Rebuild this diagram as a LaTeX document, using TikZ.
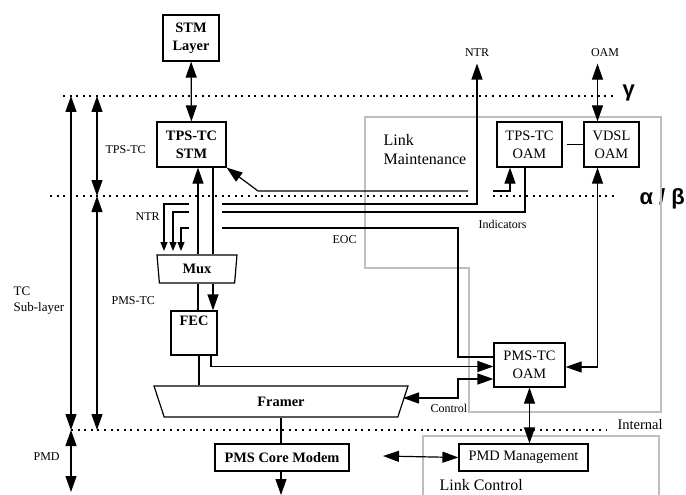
\documentclass[tikz,border=0pt]{standalone}
\usepackage{fontspec}
\setmainfont{Liberation Serif}
\newfontfamily\grkfont{Liberation Sans}
\usepackage{tikz}
\usetikzlibrary{arrows.meta,shapes.geometric}
\definecolor{ZoneGray}{RGB}{190,190,190}
\tikzset{
  blk/.style={draw,line width=1.2pt,inner sep=0pt,align=center,
              font=\fontsize{14.4}{18}\selectfont\bfseries},
  rbox/.style={draw,line width=1.2pt,inner sep=0pt,align=center,
               font=\fontsize{14.4}{18}\selectfont},
  trap/.style={blk,shape=trapezium,trapezium stretches body,
               shape border rotate=180},
  lbl/.style={anchor=west,inner sep=0pt,font=\fontsize{12}{14}\selectfont},
  big/.style={anchor=west,inner sep=0pt,align=left,font=\fontsize{16}{19}\selectfont},
  greek/.style={anchor=base west,inner sep=0pt,font=\grkfont\bfseries\fontsize{22}{24}\selectfont},
  arr/.style={-{Triangle[length=16pt,width=11pt]},line width=1.2pt},
  dbl/.style={{Triangle[length=16pt,width=11pt]}-{Triangle[length=16pt,width=11pt]},line width=1.2pt},
  sarr/.style={-{Triangle[length=9pt,width=7pt]},line width=1.2pt},
  lvl/.style={line width=2pt,dash pattern=on 2pt off 4.6pt},
  zone/.style={draw=ZoneGray,line width=1.2pt},
}

\begin{document}
\begin{tikzpicture}[x=1pt,y=-1pt,line width=1.2pt]
  \useasboundingbox (0,0) rectangle (686,495);

  % layer boundaries
  \draw[lvl] (63,96) -- (617,96);
  \draw[lvl] (50,196) -- (470,196);
  \draw[lvl] (493,196) -- (617,196);
  \draw[lvl] (71,430) -- (607,430);
  \node[greek] (gam) at (622,97) {γ};
  \node[greek] (ab) at (639,204) {α / β};
  \node[lbl,font=\fontsize{14.5}{16}\selectfont] (intl) at (617,425) {Internal};

  % management zones
  \draw[zone] (365,117) -- (661,117) -- (661,412) -- (469,412)
              -- (469,268) -- (365,268) -- cycle;
  \draw[zone] (423,500) |- (659,436) -- (659,500);
  \node[big] (lmnt) at (383,150) {Link\\Maintenance};
  \node[big] (lctl) at (439,485) {Link Control};

  % blocks
  \node[blk,minimum width=56pt,minimum height=46pt] (stm) at (191,38) {STM\\Layer};
  \node[blk,minimum width=69pt,minimum height=45pt] (tpsstm) at (191.5,144.5) {TPS-TC\\STM};
  \node[trap,minimum width=80pt,minimum height=28pt,trapezium angle=76] (mux) at (197,269) {Mux};
  \node[draw,minimum width=46pt,minimum height=44pt,inner sep=0pt,
        label={[anchor=north,inner sep=5pt,font=\fontsize{14.4}{18}\selectfont\bfseries]north:FEC}] (fec) at (194,333) {};
  \node[trap,minimum width=254pt,minimum height=31pt,trapezium angle=43.2] (framer) at (281,401.5) {Framer};
  \node[blk,minimum width=134pt,minimum height=27pt] (core) at (282,457.5) {PMS Core Modem};
  \node[rbox,minimum width=65pt,minimum height=45pt] (tpsoam) at (529.5,144.5) {TPS-TC\\OAM};
  \node[rbox,minimum width=55pt,minimum height=45pt] (vdsl) at (611.5,144.5) {VDSL\\OAM};
  \node[rbox,minimum width=71pt,minimum height=44pt] (pmsoam) at (529.5,365) {PMS-TC\\OAM};
  \node[rbox,minimum width=129pt,minimum height=27pt] (pmdm) at (523.5,457.5) {PMD Management};

  % side labels
  \node[lbl] (ltps) at (105,150) {TPS-TC};
  \node[lbl] (lpms) at (111,301) {PMS-TC};
  \node[lbl,align=left,font=\fontsize{13}{16}\selectfont] (ltc) at (13,301) {TC\\Sub-layer};
  \node[lbl] (lpmd) at (33,457) {PMD};
  \node[lbl] (lntr) at (135,217) {NTR};
  \node[lbl] (leoc) at (332,240) {EOC};
  \node[lbl] (lind) at (478,224) {Indicators};
  \node[lbl] (lctrl) at (430,408) {Control};
  \node[lbl,anchor=center] (ntrtop) at (477,53) {NTR};
  \node[lbl,anchor=center] (oamtop) at (605,53) {OAM};

  % layer extent arrows
  \coordinate (gL) at (71,96);  \coordinate (iL) at (71,430);  \coordinate (pL) at (71,492);
  \coordinate (gR) at (97,96);  \coordinate (aR) at (97,196);  \coordinate (iR) at (97,430);
  \draw[dbl] (gL) -- (iL);
  \draw[dbl] (iL) -- (pL);
  \draw[dbl] (gR) -- (aR);
  \draw[dbl] (aR) -- (iR);

  % data path
  \coordinate (up) at (198,0);
  \coordinate (dn) at (213,0);
  \coordinate (fx) at ([xshift=5pt]fec.south);
  \coordinate (fy) at ([xshift=17pt]fec.south);
  \draw[dbl] (stm) -- (tpsstm);
  \draw[arr] (mux.north -| up) -- (tpsstm.south -| up);
  \draw (tpsstm.south -| dn) -- (mux.north -| dn);
  \draw (fec.north -| up) -- (mux.south -| up);
  \draw[arr] (mux.south -| dn) -- (fec.north -| dn);
  \draw (fx) -- (framer.north -| fx);
  \draw (framer.south) -- (core.north -| framer.south);
  \coordinate (modemout) at (281,495);
  \draw[arr] (core.south -| modemout) -- (modemout);

  % NTR into Mux
  \foreach \xa/\ya in {164/204,173/212,181/228}
    \draw[sarr] (189,\ya) -| (\xa,251);

  % management links
  \coordinate (ox) at ([xshift=-14pt]vdsl.south);
  \coordinate (tx) at ([xshift=4pt]tpsoam.east);
  \draw[arr] (468,191) -- (258,191) -- (tpsstm.south east);
  \draw[arr] (493,191) -| ([xshift=-19.5pt]tpsoam.south);
  \draw[arr] (222,204) -| ([yshift=-6pt]ntrtop.south);
  \draw (222,212) -| ([xshift=-4.5pt]tpsoam.south);
  \draw (222,228) -| (458,357) -- ([yshift=8pt]pmsoam.west);
  \draw[arr] (fy) |- ([yshift=-1.5pt]pmsoam.west);
  \coordinate (ctl) at (403,398);
  \draw[dbl] (ctl) -| (458,379) -- ([yshift=-14pt]pmsoam.west);
  \draw (tx) -- (vdsl.west |- tx);
  \draw[dbl] (ox) |- ([yshift=-2pt]pmsoam.east);
  \draw[dbl] ([yshift=-6pt]oamtop.south -| ox) -- (vdsl.north -| ox);
  \draw[dbl] (pmsoam.south) -- (pmdm.north -| pmsoam.south);
  \coordinate (coreout) at (383,456);
  \draw[dbl] (coreout) -- (pmdm.west);
\end{tikzpicture}
\end{document}
